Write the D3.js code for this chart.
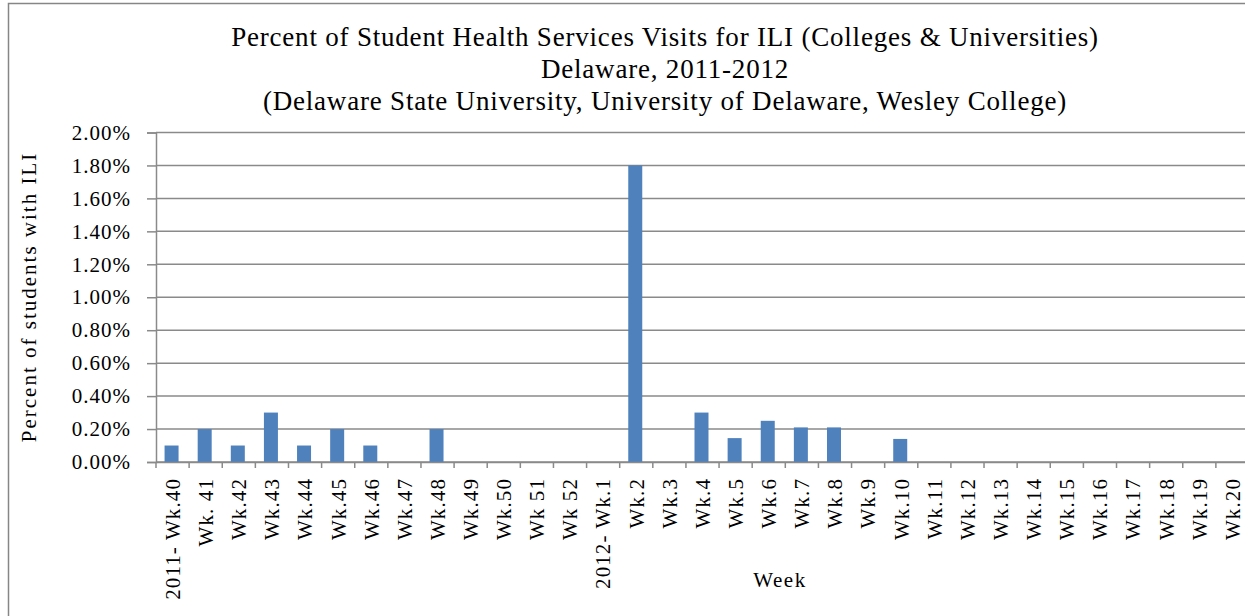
<!DOCTYPE html>
<html>
<head>
<meta charset="utf-8">
<style>
body { margin: 0; background: #fff; }
svg { display: block; }
</style>
</head>
<body>
<div id="chart"></div>
<script src="https://d3js.org/d3.v7.min.js"></script>
<script>
// weeks of the 2011-2012 season
var weeks = ["2011- Wk.40", "Wk. 41", "Wk.42", "Wk.43", "Wk.44", "Wk.45", "Wk.46", "Wk.47", "Wk.48",
  "Wk.49", "Wk.50", "Wk 51", "Wk 52", "2012- Wk.1", "Wk.2", "Wk.3", "Wk.4", "Wk.5", "Wk.6", "Wk.7",
  "Wk.8", "Wk.9", "Wk.10", "Wk.11", "Wk.12", "Wk.13", "Wk.14", "Wk.15", "Wk.16", "Wk.17", "Wk.18",
  "Wk.19", "Wk.20"];
// percent of visits for ILI (fraction)
var pctILI = [0.0010, 0.0020, 0.0010, 0.0030, 0.0010, 0.0020, 0.0010, 0, 0.0020,
  0, 0, 0, 0, 0, 0.0180, 0, 0.0030, 0.00145, 0.0025, 0.0021,
  0.0021, 0, 0.0014, 0, 0, 0, 0, 0, 0, 0, 0,
  0, 0];
var yTicks = [0, 0.002, 0.004, 0.006, 0.008, 0.010, 0.012, 0.014, 0.016, 0.018, 0.020];
var titleLines = ["Percent of Student Health Services Visits for ILI (Colleges & Universities)",
  "Delaware, 2011-2012",
  "(Delaware State University, University of Delaware, Wesley College)"];

var FONT = "'Liberation Serif', 'Times New Roman', Times, serif";
var W = 1245, H = 616;
var plot = {left: 156, right: 1249, top: 132.5, bottom: 462};
var gridColor = "#8a8a8a";

var svg = d3.select("#chart").append("svg")
  .attr("width", W)
  .attr("height", H);

// outer chart border (right and bottom edges fall outside the picture)
svg.append("rect")
  .attr("x", 8.5).attr("y", 3.5)
  .attr("width", W + 20).attr("height", H + 20)
  .attr("fill", "#fff")
  .attr("stroke", "#868686")
  .attr("stroke-width", 1.5);

var x = d3.scaleBand()
  .domain(weeks)
  .range([plot.left, plot.right])
  .padding(0);

var y = d3.scaleLinear()
  .domain([0, 0.02])
  .range([plot.bottom, plot.top]);

// gridlines
svg.append("g")
  .selectAll("line")
  .data(yTicks)
  .enter().append("line")
    .attr("x1", plot.left)
    .attr("x2", plot.right)
    .attr("y1", function(d) { return y(d); })
    .attr("y2", function(d) { return y(d); })
    .attr("stroke", gridColor)
    .attr("stroke-width", 1.5);

// bars
var barW = 14;
svg.append("g")
  .selectAll("rect")
  .data(pctILI)
  .enter().append("rect")
    .attr("x", function(d, i) { return x(weeks[i]) + (x.bandwidth() - barW) / 2 - 1; })
    .attr("y", function(d) { return y(d); })
    .attr("width", barW)
    .attr("height", function(d) { return plot.bottom - y(d); })
    .attr("fill", "#4f81bd");

// y axis
var yAxis = svg.append("g")
  .attr("transform", "translate(" + plot.left + ",0)")
  .call(d3.axisLeft(y).tickValues(yTicks).tickFormat(d3.format(".2%")).tickSize(9).tickPadding(16));
yAxis.attr("font-family", null).attr("font-size", null);
yAxis.selectAll("line").attr("stroke", gridColor).attr("stroke-width", 1.5);
yAxis.select(".domain").attr("stroke", gridColor).attr("stroke-width", 1.5);
yAxis.selectAll(".tick text")
  .style("font-family", FONT)
  .style("font-size", "21px")
  .style("letter-spacing", "1px")
  .attr("fill", "#000");

// x axis
var xAxis = svg.append("g")
  .attr("transform", "translate(0," + plot.bottom + ")")
  .call(d3.axisBottom(x).tickSize(0).tickPadding(0));
xAxis.attr("font-family", null).attr("font-size", null);
xAxis.select(".domain").attr("stroke", gridColor).attr("stroke-width", 1.5);
xAxis.selectAll(".tick text")
  .attr("transform", "rotate(-90)")
  .attr("x", -16)
  .attr("y", 0)
  .attr("dy", "0.35em")
  .attr("fill", "#000")
  .style("font-family", FONT)
  .style("font-size", "21px")
  .style("letter-spacing", "1.1px")
  .style("text-anchor", "end");

// tick marks at category boundaries
svg.append("g")
  .selectAll("line")
  .data(weeks.concat(["end"]))
  .enter().append("line")
    .attr("x1", function(d, i) { return plot.left + i * x.bandwidth(); })
    .attr("x2", function(d, i) { return plot.left + i * x.bandwidth(); })
    .attr("y1", plot.bottom)
    .attr("y2", plot.bottom + 6)
    .attr("stroke", gridColor)
    .attr("stroke-width", 1.5);

// title
svg.append("text")
  .attr("text-anchor", "middle")
  .style("font-family", FONT)
  .style("font-size", "27px")
  .style("letter-spacing", "0.8px")
  .selectAll("tspan")
  .data(titleLines)
  .enter().append("tspan")
    .attr("x", 665)
    .attr("y", function(d, i) { return 45.5 + i * 32; })
    .text(function(d) { return d; });

// axis titles
svg.append("text")
  .attr("text-anchor", "middle")
  .attr("transform", "translate(36,297) rotate(-90)")
  .style("font-family", FONT)
  .style("font-size", "21px")
  .style("letter-spacing", "2px")
  .text("Percent of students with ILI");

svg.append("text")
  .attr("text-anchor", "middle")
  .attr("x", 780)
  .attr("y", 587)
  .style("font-family", FONT)
  .style("font-size", "21px")
  .style("letter-spacing", "1.5px")
  .text("Week");
</script>
</body>
</html>
